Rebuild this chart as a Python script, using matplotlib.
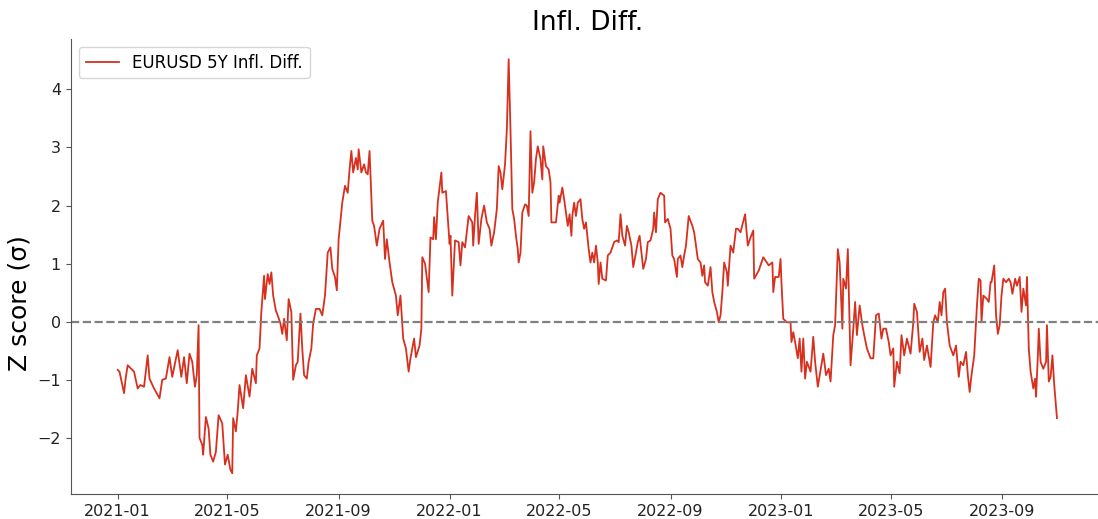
import numpy as np
import pandas as pd
import matplotlib
matplotlib.use("Agg")
import matplotlib.pyplot as plt

start_date = "2021-01-01"

# day offsets from start_date and z-score values
days = [
    0, 2, 7, 9, 11, 18, 22, 25, 29, 33, 35, 40, 46, 49, 53, 57, 60, 66, 70, 73,
    76, 79, 82, 85, 87, 89, 90, 93, 94, 97, 100, 102, 105, 108, 111, 115, 118, 121, 124, 126,
    127, 130, 132, 134, 138, 141, 145, 148, 152, 153, 156, 158, 161, 162, 165, 167, 169, 171, 174, 176,
    179, 181, 183, 186, 188, 191, 193, 196, 198, 201, 203, 205, 208, 210, 213, 215, 218, 222, 225, 228,
    231, 234, 236, 239, 241, 243, 247, 250, 253, 255, 257, 259, 262, 264, 265, 268, 271, 273, 275, 277,
    280, 282, 285, 288, 292, 294, 296, 299, 302, 306, 308, 311, 314, 317, 320, 322, 326, 328, 332, 334,
    335, 338, 342, 344, 347, 348, 350, 352, 356, 357, 361, 365,
    366, 368, 371, 375, 377, 379, 382, 386, 390, 391, 393, 395, 397, 400, 403, 406, 409, 411, 414, 417,
    419, 421, 423, 425, 426, 428, 430, 432, 434, 436, 438, 440, 441, 443, 445, 448, 450, 452, 454, 456,
    458, 460, 462, 465, 467, 468, 471, 474, 476, 477, 480, 482, 485, 486, 489, 491, 495, 497, 499, 500,
    502, 504, 506, 509, 511, 513, 515, 518, 520, 522, 524, 526, 528, 529, 531, 533, 537, 539, 542, 546,
    549, 551, 553, 555, 558, 560, 562, 565, 567, 570, 572, 574, 576, 578, 581, 583, 586, 589, 590, 592,
    594, 597, 601, 602, 605, 608, 610, 612, 615, 616, 619, 621, 623, 625, 628, 632, 634, 636, 638, 641,
    643, 645, 646, 649, 652, 654, 656, 659, 661, 663, 665, 667, 670, 671, 674, 677, 680, 682,
    685, 690, 693, 696, 699, 700, 705, 710, 716, 720, 721, 723, 727, 729, 730, 732, 736, 740, 741, 743,
    745, 748, 750, 752, 754, 756, 758, 762, 765, 767, 770, 773, 776, 779, 782, 784, 787, 789, 792, 794,
    797, 798, 801, 803, 806, 809, 811, 813, 816, 819, 821, 824, 828, 831, 834, 837, 840, 842, 845, 848,
    850, 853, 854, 857, 860, 862, 865, 868, 872, 875, 876, 879, 882, 885, 887, 890, 894, 897, 899, 902,
    904, 906, 908, 910, 912, 915, 919, 922, 925, 927, 930, 933, 935, 937, 939, 942, 945, 947, 949, 950,
    952, 956, 958, 960, 961, 964, 966, 968, 970, 972, 974, 977, 980, 982, 984, 987, 989, 992, 994, 996,
    999, 1000, 1002, 1004, 1007, 1009, 1010, 1012, 1013, 1015, 1018, 1021, 1022, 1024, 1026, 1028, 1030, 1033,
]

zscore = [
    -0.83, -0.86, -1.23, -0.95, -0.75, -0.86, -1.15, -1.09, -1.12, -0.58, -0.98, -1.15, -1.32, -1.00, -0.98, -0.61, -0.95, -0.49, -0.95, -0.61,
    -1.06, -0.55, -0.69, -1.12, -0.92, -0.06, -2.00, -2.12, -2.29, -1.64, -1.84, -2.29, -2.41, -2.24, -1.61, -1.75, -2.46, -2.29, -2.55, -2.61,
    -1.66, -1.89, -1.55, -1.09, -1.49, -0.92, -1.29, -0.81, -1.06, -0.58, -0.46, 0.17, 0.79, 0.39, 0.82, 0.65, 0.85, 0.45, 0.19, 0.11,
    -0.03, -0.21, 0.05, -0.32, 0.39, 0.17, -1.00, -0.75, -0.69, 0.14, -0.46, -0.92, -0.98, -0.69, -0.46, -0.03, 0.22, 0.22, 0.11, 0.45,
    1.19, 1.28, 0.91, 0.77, 0.54, 1.42, 2.05, 2.34, 2.22, 2.62, 2.94, 2.57, 2.82, 2.62, 2.97, 2.57, 2.71, 2.57, 2.54, 2.94,
    1.74, 1.65, 1.31, 1.60, 1.74, 1.08, 1.42, 1.02, 0.68, 0.45, 0.11, 0.45, -0.29, -0.46, -0.86, -0.63, -0.29, -0.61, -0.41, -0.12,
    1.11, 1.00, 0.51, 1.45, 1.42, 1.80, 1.42, 2.05, 2.57, 2.22, 2.25, 1.34,
    1.48, 0.45, 1.40, 1.37, 0.97, 1.37, 1.28, 1.82, 1.71, 1.31, 1.82, 2.22, 1.34, 1.77, 2.00, 1.71, 1.60, 1.31, 1.54, 1.94,
    2.68, 2.57, 2.28, 2.57, 2.71, 3.31, 4.52, 3.31, 1.94, 1.77, 1.48, 1.25, 1.02, 1.19, 1.88, 2.02, 2.00, 1.82, 3.28, 2.22,
    2.40, 2.80, 3.02, 2.80, 2.45, 3.02, 2.68, 2.62, 2.40, 1.71, 1.71, 1.71, 2.17, 2.05, 2.31, 2.11, 1.65, 1.85, 1.48, 1.82,
    2.05, 1.82, 2.05, 2.11, 1.77, 1.60, 1.71, 1.25, 1.02, 1.19, 1.02, 1.31, 1.02, 0.65, 1.02, 0.74, 0.71, 1.14, 1.19, 1.37,
    1.40, 1.37, 1.85, 1.48, 1.31, 1.65, 1.54, 1.31, 0.94, 1.19, 1.37, 1.48, 1.19, 0.91, 1.08, 1.37, 1.40, 1.60, 1.88, 1.54,
    2.11, 2.22, 2.17, 1.71, 1.77, 1.60, 1.14, 1.08, 0.77, 1.08, 1.14, 0.94, 1.14, 1.31, 1.82, 1.65, 1.54, 1.31, 1.08, 1.02,
    0.79, 0.97, 0.68, 0.62, 0.94, 0.51, 0.34, 0.17, -0.01, 0.11, 0.51, 1.02, 0.85, 0.62, 1.31, 1.19, 1.60, 1.60,
    1.54, 1.85, 1.31, 1.45, 1.57, 0.74, 0.88, 1.11, 0.97, 1.02, 0.51, 0.77, 0.77, 1.08, 0.68, 0.05, -0.01, -0.01, -0.35, -0.18,
    -0.35, -0.63, -0.29, -0.86, -0.29, -0.98, -0.69, -0.86, -0.26, -0.69, -1.12, -0.83, -0.55, -0.92, -0.81, -1.03, -0.23, -0.06, 1.25, 1.02,
    -0.12, 0.74, 0.57, 1.25, -0.75, -0.12, 0.34, -0.23, 0.28, -0.06, -0.23, -0.46, -0.63, -0.63, 0.11, 0.14, -0.29, -0.12, -0.12, -0.35,
    -0.58, -0.46, -1.12, -0.69, -0.89, -0.23, -0.58, -0.29, -0.55, -0.01, 0.31, 0.17, -0.52, -0.29, -0.66, -0.41, -0.78, -0.01, 0.11, -0.01,
    0.34, 0.11, 0.51, 0.57, -0.01, -0.41, -0.58, -0.41, -0.95, -0.69, -0.75, -0.52, -0.92, -1.21, -0.92, -0.58, 0.28, 0.74, 0.71, -0.01,
    0.45, 0.39, 0.34, 0.68, 0.68, 0.97, 0.11, -0.21, -0.06, 0.45, 0.74, 0.68, 0.74, 0.68, 0.48, 0.74, 0.62, 0.77, 0.17, 0.57,
    0.28, 0.77, -0.46, -0.86, -1.15, -0.98, -1.29, -0.58, -0.12, -0.69, -0.81, -0.69, -0.06, -1.03, -0.95, -0.58, -1.09, -1.66,
]

series_name = "EURUSD 5Y Infl. Diff."

dates = pd.Timestamp(start_date) + pd.to_timedelta(days, unit="D")

fig = plt.figure(figsize=(10.98, 5.19), dpi=100)
ax = fig.add_axes([0.0644, 0.0482, 0.941, 0.8776])

ax.plot(dates, zscore, color="#d7301f", linewidth=1.3, label=series_name)
ax.axhline(y=0, color="gray", linestyle="--", linewidth=1.6)

ax.set_title("Infl. Diff.", fontsize=19)
ax.set_ylabel("Z score (σ)", fontsize=18)
ax.yaxis.set_label_coords(-0.038, 0.42)
ax.tick_params(labelsize=11.5, colors="#222222")
ax.tick_params(axis="both", color="#555555")

for s in ["top", "right"]:
    ax.spines[s].set_visible(False)
for s in ["left", "bottom"]:
    ax.spines[s].set_color("#555555")

ax.legend(loc="upper left", fontsize=12)

fig.savefig("out.png", dpi=100)
